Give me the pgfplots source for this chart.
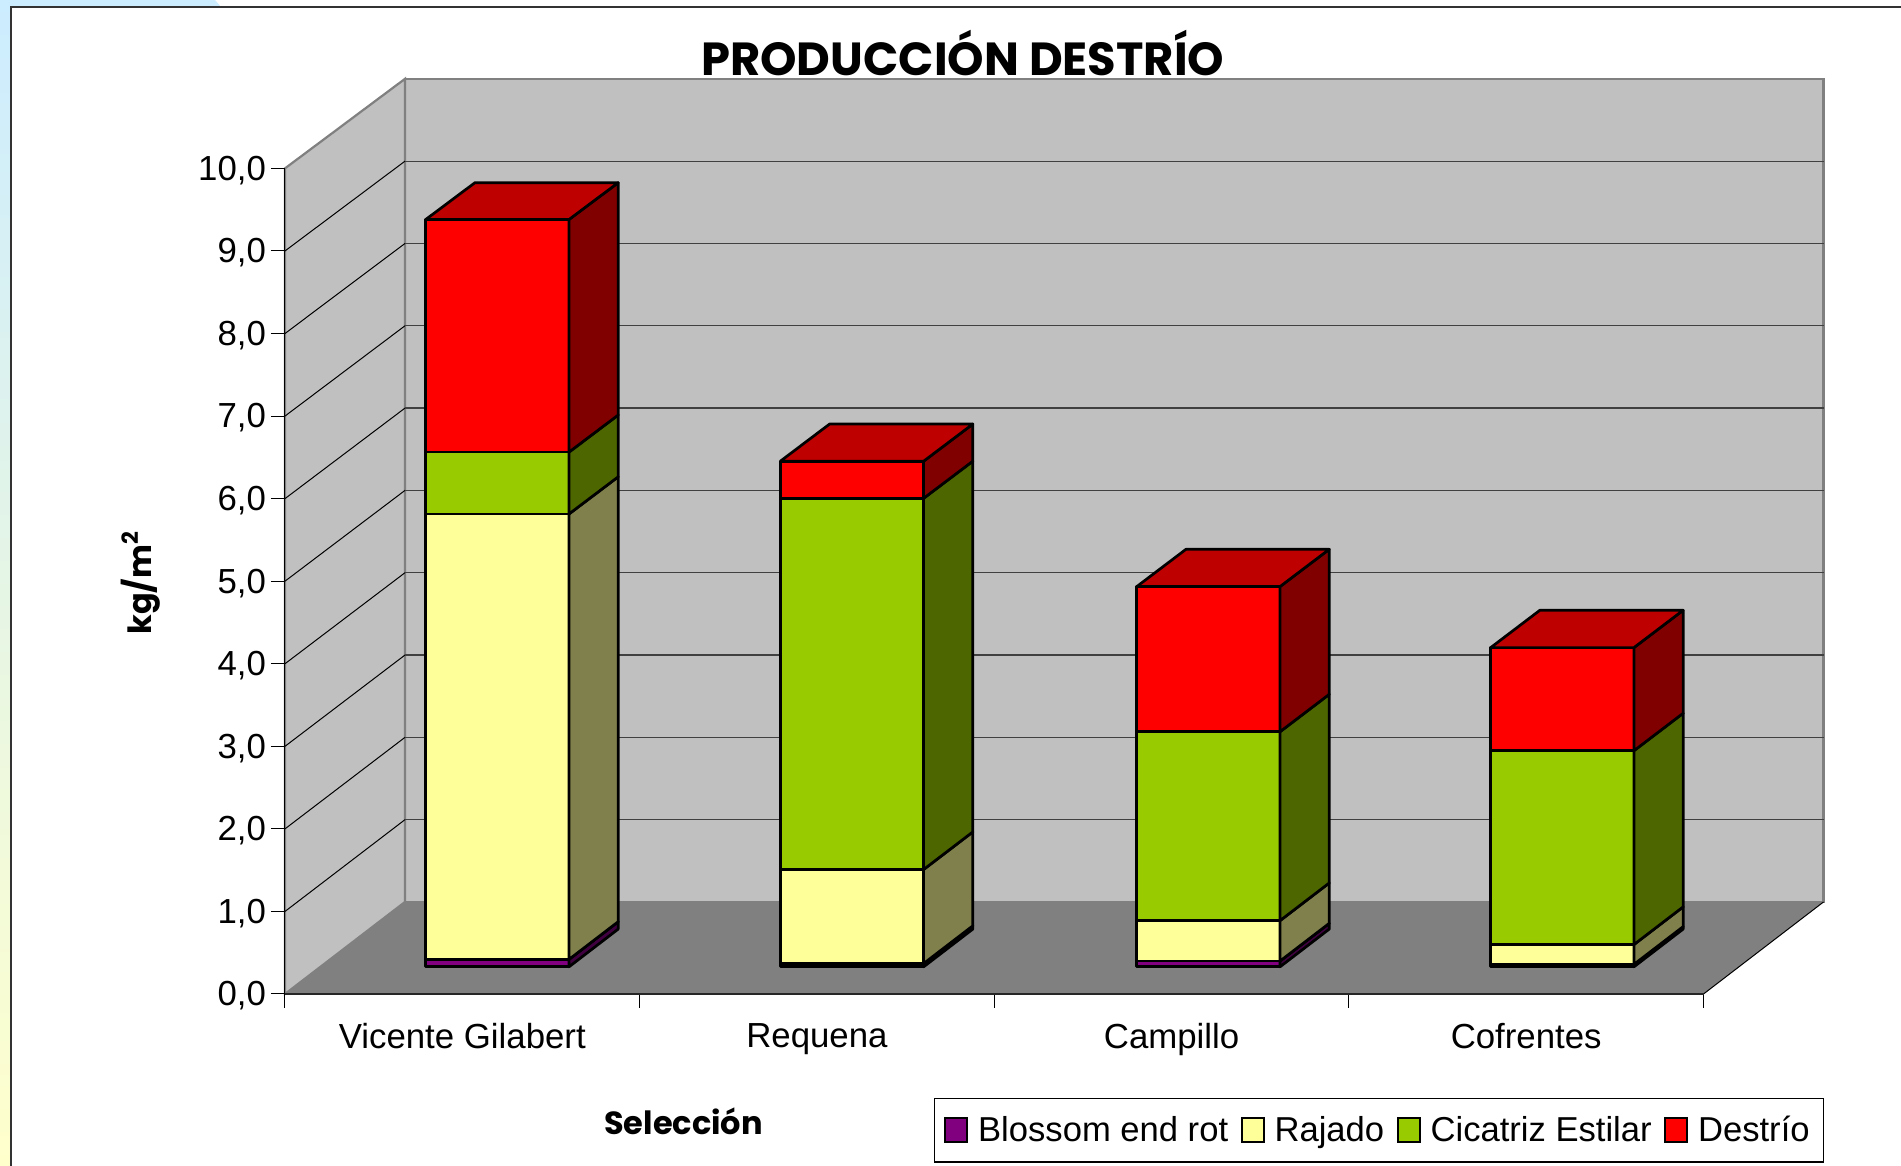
\documentclass[border=0pt]{standalone}
\usepackage{fontspec}
\setmainfont{Liberation Sans}
\newfontfamily\comic{Poppins}
\usepackage{pgfplots}
\pgfplotsset{compat=1.18}

\definecolor{wall}{HTML}{C0C0C0}
\definecolor{floorc}{HTML}{808080}
\definecolor{purpleF}{HTML}{800080}
\definecolor{purpleS}{HTML}{400040}
\definecolor{yellowF}{HTML}{FFFF99}
\definecolor{yellowS}{HTML}{80804D}
\definecolor{greenF}{HTML}{99CC00}
\definecolor{greenS}{HTML}{4D6600}
\definecolor{redF}{HTML}{FF0000}
\definecolor{redS}{HTML}{800000}
\definecolor{redT}{HTML}{BF0000}

% oblique depth: one unit of depth moves this far in x and y
\newcommand{\depthx}{0.3385}
\newcommand{\depthy}{1.115}

% polygon or line given as x, depth, value
\newcommand{\face}[2]{\addplot[forget plot,#1] table[row sep=\\,
    x expr={\thisrow{x}+\depthx*\thisrow{d}},
    y expr={\thisrow{v}*(1-0.003*\thisrow{d})+\depthy*\thisrow{d}}]
    {x d v\\ #2} -- cycle;}
\newcommand{\edge}[2]{\addplot[forget plot,#1] table[row sep=\\,
    x expr={\thisrow{x}+\depthx*\thisrow{d}},
    y expr={\thisrow{v}*(1-0.003*\thisrow{d})+\depthy*\thisrow{d}}]
    {x d v\\ #2};}
% left wall and back wall grid line at value #1
\newcommand{\gridat}[1]{%
  \edge{black,line width=0.5pt}{0 0 #1\\ 0 1 #1\\}
  \edge{black!75,line width=0.6pt}{0 1 #1\\ 4 1 #1\\}}

% one box of a bar: category, lower level, upper level, front colour, side colour
\newcommand{\barface}[3]{\addplot[forget plot,draw=black,line width=1.35pt,line join=round,#2] table[row sep=\\,
    x expr={#1+0.30+0.404*\thisrow{u}+\depthx*\thisrow{d}},
    y expr={\thisrow{v}*(1-0.003*\thisrow{d})+\depthy*\thisrow{d}}]
    {u d v\\ #3} -- cycle;}
\newcommand{\seg}[5]{%
  \barface{#1}{fill=#4}{0 0.295 #2\\ 1 0.295 #2\\ 1 0.295 #3\\ 0 0.295 #3\\}
  \barface{#1}{fill=#5}{1 0.295 #2\\ 1 0.705 #2\\ 1 0.705 #3\\ 1 0.295 #3\\}}
\newcommand{\lid}[2]{%
  \barface{#1}{fill=redT}{0 0.295 #2\\ 1 0.295 #2\\ 1 0.705 #2\\ 0 0.705 #2\\}}
% levels are the cumulative heights
\newcommand{\stackbar}[5]{%
  \seg{#1}{0}{#2}{purpleF}{purpleS}
  \seg{#1}{#2}{#3}{yellowF}{yellowS}
  \seg{#1}{#3}{#4}{greenF}{greenS}
  \seg{#1}{#4}{#5}{redF}{redS}
  \lid{#1}{#5}}

\begin{document}
\begin{tikzpicture}
\useasboundingbox (-142.5pt,-86pt) rectangle (808pt,497pt);
% slide background behind the chart frame
\fill[white] (-142.5pt,-86pt) rectangle (808pt,497pt);
\fill[color={rgb,255:red,204;green,236;blue,255}] (-142.5pt,497pt) -- (-35pt,497pt) -- (-32pt,493.5pt) -- (-142.5pt,493.5pt) -- cycle;
\shade[top color={rgb,255:red,204;green,236;blue,255},bottom color={rgb,255:red,255;green,255;blue,204}]
  (-142.5pt,-86pt) rectangle (-137pt,497pt);
\draw[black!80,line width=0.8pt] (-137pt,-86pt) -- (-137pt,493.5pt) -- (808pt,493.5pt);

\begin{axis}[
    scale only axis,
    width=709.25pt,
    height=412.8pt,
    clip=false,
    axis on top,
    xmin=0, xmax=4,
    ymin=0, ymax=10,
    axis x line=bottom,
    axis y line=left,
    axis line style={-},
    x axis line style={line width=1.3pt,color=black!85},
    y axis line style={line width=0.5pt,color=black},
    xtick={0,1,2,3,4},
    x tick label as interval,
    xticklabels={Vicente Gilabert,Requena,Campillo,Cofrentes},
    ytick={0,1,2,3,4,5,6,7,8,9,10},
    tick align=outside,
    tickwidth=7pt,
    major tick style={black,line width=0.5pt},
    tick label style={font=\fontsize{17.4}{20}\selectfont},
    xticklabel style={yshift=-4pt},
    yticklabel style={xshift=1pt,yshift=-1pt},
    /pgf/number format/.cd,fixed,fixed zerofill,precision=1,use comma,assume math mode=true,
    /pgfplots/.cd,
    title={\comic\bfseries PRODUCCIÓN DESTRÍO},
    title style={at={(axis description cs:0.4778,1.1256)},anchor=center,font=\fontsize{23.2}{26}\selectfont},
    xlabel={\comic\bfseries Selección},
    xlabel style={at={(axis description cs:0.281,-0.1545)},anchor=center,font=\fontsize{16}{20}\selectfont},
    ylabel={\comic\bfseries kg/m\textsuperscript{2}},
    ylabel style={at={(axis description cs:-0.1017,0.498)},anchor=center,rotate=0,font=\fontsize{16}{20}\selectfont},
    legend columns=4,
    legend style={
      at={(axis description cs:0.4575,-0.2041)},anchor=south west,
      draw=black,line width=0.6pt,font=\fontsize{17.3}{20}\selectfont,
      inner xsep=4.8pt,inner ysep=6.8pt,
      /tikz/every even column/.append style={column sep=4.2pt},
      /tikz/every odd column/.append style={column sep=3pt},
    },
    legend image code/.code={\draw[#1,draw=black,line width=1pt] (0pt,-6pt) rectangle (11pt,6pt);},
]
% walls and floor
\face{fill=wall,draw=floorc,line width=1.1pt}{0 1 0\\ 4 1 0\\ 4 1 10\\ 0 1 10\\}
\face{fill=wall,draw=floorc,line width=1.1pt}{0 0 0\\ 0 1 0\\ 0 1 10\\ 0 0 10\\}
\gridat{1}\gridat{2}\gridat{3}\gridat{4}\gridat{5}
\gridat{6}\gridat{7}\gridat{8}\gridat{9}
\face{fill=floorc,draw=none}{0 0 0\\ 4 0 0\\ 4 1 0\\ 0 1 0\\}
\edge{black,line width=0.5pt}{4 0 0\\ 4 1 0\\}
\edge{black,line width=0.5pt}{0 0 0\\ 0 0 10\\}

% bars: Blossom end rot, Rajado, Cicatriz Estilar, Destrío (cumulative)
\stackbar{-0.003}{0.09}{5.49}{6.24}{9.06}
\stackbar{0.997}{0.04}{1.18}{5.68}{6.13}
\stackbar{2.002}{0.07}{0.56}{2.85}{4.61}
\stackbar{3}{0.03}{0.27}{2.62}{3.87}

\addlegendimage{fill=purpleF}\addlegendentry{Blossom end rot}
\addlegendimage{fill=yellowF}\addlegendentry{Rajado}
\addlegendimage{fill=greenF}\addlegendentry{Cicatriz Estilar}
\addlegendimage{fill=redF}\addlegendentry{Destrío}
\end{axis}
\end{tikzpicture}
\end{document}
